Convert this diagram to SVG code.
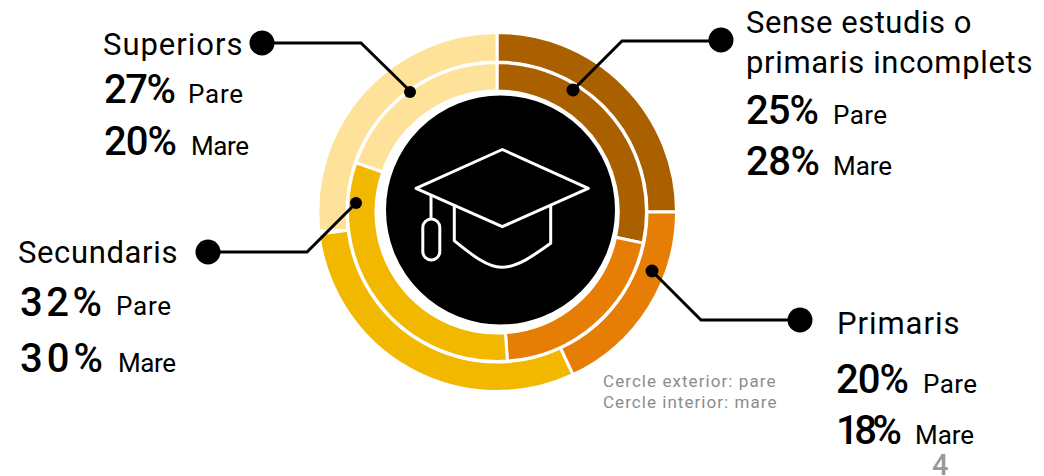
<svg xmlns="http://www.w3.org/2000/svg" width="1044" height="476" viewBox="0 0 1044 476">
<style>
text{font-family:"Roboto","Liberation Sans",sans-serif;fill:#000}
.h{font-size:31px;letter-spacing:.6px}
.p{font-size:40px;font-weight:500}
.s{font-size:26px}
.n{font-size:17px;fill:#8c8c8c;letter-spacing:.6px}
.seg{stroke:#fff;stroke-width:3}
.ln{fill:none;stroke:#000;stroke-width:3}
.ic{fill:none;stroke:#fff;stroke-width:3;stroke-linejoin:round}
</style>
<rect width="1044" height="476" fill="#fff"/>
<g id="donut">
<path class="seg" fill="#ab6000" d="M497 32.500A179.500 179.500 0 0 1 676.500 212L647 212A150 150 0 0 0 497 62Z"/>
<path class="seg" fill="#e67e05" d="M676.500 212A179.500 179.500 0 0 1 572.900 374.700L560.400 348A150 150 0 0 0 647 212Z"/>
<path class="seg" fill="#f2b800" d="M572.900 374.700A179.500 179.500 0 0 1 318.800 233.900L348.100 230.300A150 150 0 0 0 560.400 348Z"/>
<path class="seg" fill="#fee29a" d="M318.800 231A179.500 179.500 0 0 1 497 32.500L497 62A150 150 0 0 0 348.100 230.300Z"/>
<path class="seg" fill="#ab6000" d="M497 62.500A149.500 149.500 0 0 1 643.200 243.100L615.600 237.200A121 121 0 0 0 497 91Z"/>
<path class="seg" fill="#e67e05" d="M643.200 243.100A149.500 149.500 0 0 1 507.400 361.100L505.400 332.700A121 121 0 0 0 615.600 237.200Z"/>
<path class="seg" fill="#f2b800" d="M507.400 361.100A149.500 149.500 0 0 1 355.900 162.600L382.800 172A121 121 0 0 0 505.400 332.700Z"/>
<path class="seg" fill="#fee29a" d="M355.900 162.600A149.500 149.500 0 0 1 497 62.500L497 91A121 121 0 0 0 382.800 172Z"/>
</g>
<g id="center">
<circle cx="500.500" cy="210" r="116" fill="#000" stroke="#fff" stroke-width="3"/>
<path class="ic" d="M502.300 149.500L588.300 188.300L502.300 226.700L416 188.300Z"/>
<path class="ic" d="M454.300 205V240.700C472 255 487 267.300 501.700 267.300C517 267.300 533 256 550.700 243.300V205"/>
<path class="ic" d="M431 195V219"/>
<rect class="ic" x="422.800" y="219" width="17" height="41" rx="8.500"/>
</g>
<g id="connectors">
<path class="ln" d="M262 43H361L410 91"/>
<path class="ln" d="M721 41H622L573 90"/>
<path class="ln" d="M208 252H307L356 203"/>
<path class="ln" d="M800 320H701L652 271"/>
</g>
<g id="superiors">
<circle cx="262" cy="43" r="12.500"/><circle cx="410" cy="92" r="6"/>
<text class="h" x="103" y="55" textLength="140">Superiors</text>
<text class="p" x="104" y="103" textLength="72">27%</text><text class="s" x="188" y="103" textLength="55">Pare</text>
<text class="p" x="104" y="155" textLength="73">20%</text><text class="s" x="191" y="155" textLength="58">Mare</text>
</g>
<g id="sense-estudis">
<circle cx="721" cy="40" r="12.500"/><circle cx="573" cy="90" r="6.500"/>
<text class="h" x="746" y="33" textLength="226">Sense estudis o</text>
<text class="h" x="746" y="73" textLength="287">primaris incomplets</text>
<text class="p" x="746" y="124" textLength="73">25%</text><text class="s" x="833" y="124" textLength="54">Pare</text>
<text class="p" x="746" y="175" textLength="74">28%</text><text class="s" x="833" y="175" textLength="59">Mare</text>
</g>
<g id="secundaris">
<circle cx="208" cy="252" r="12.500"/><circle cx="356" cy="203" r="6"/>
<text class="h" x="18" y="263" textLength="160">Secundaris</text>
<text class="p" x="20" y="316" textLength="82">32%</text><text class="s" x="116" y="315" textLength="55">Pare</text>
<text class="p" x="20" y="372" textLength="83">30%</text><text class="s" x="118" y="372" textLength="58">Mare</text>
</g>
<g id="primaris">
<circle cx="800" cy="320" r="12.500"/><circle cx="652" cy="271" r="6.500"/>
<text class="h" x="837" y="334" textLength="123">Primaris</text>
<text class="p" x="836" y="393" textLength="73">20%</text><text class="s" x="923" y="393" textLength="54">Pare</text>
<text class="p" x="836" y="444" textLength="66">18%</text><text class="s" x="915" y="444" textLength="59">Mare</text>
</g>
<g id="notes">
<text class="n" x="603" y="387" textLength="173">Cercle exterior: pare</text>
<text class="n" x="603" y="408" textLength="174">Cercle interior: mare</text>
<text x="932" y="475" style="font-size:29px;fill:#999;font-weight:500">4</text>
</g>
</svg>
